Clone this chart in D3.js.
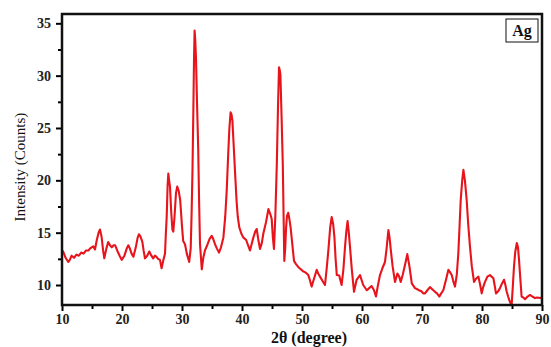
<!DOCTYPE html>
<html>
<head>
<meta charset="utf-8">
<script src="https://cdn.jsdelivr.net/npm/d3@7"></script>
<style>
  html, body { margin: 0; padding: 0; background: #fff; overflow: hidden; }
  svg { display: block; }
  text { font-family: "Liberation Serif", "Times New Roman", Times, serif; }
</style>
</head>
<body>
<div id="chart"></div>
<script>
// XRD pattern
var twoTheta = [10.0, 10.2, 10.6, 11.05, 11.3, 11.6, 12.0, 12.4, 12.8, 13.2, 13.6, 14.0, 14.4, 14.7, 15.2, 15.5, 15.8, 16.1, 16.33, 16.6,
  16.85, 17.05, 17.4, 17.7, 18.0, 18.3, 18.6, 18.85, 19.2, 19.6, 19.95, 20.4, 20.8, 21.05, 21.3, 21.6, 21.9, 22.3, 22.6, 22.83,
  23.1, 23.4, 23.6, 23.83, 24.2, 24.55, 24.9, 25.2, 25.5, 25.75, 26.0, 26.33, 26.6, 26.9, 27.17, 27.3, 27.45, 27.6, 27.72, 27.85,
  28.0, 28.2, 28.4, 28.55, 28.75, 29.0, 29.2, 29.45, 29.7, 30.0, 30.2, 30.5, 30.8, 31.2, 31.45, 31.6, 31.75, 31.9, 32.0, 32.1,
  32.2, 32.33, 32.5, 32.7, 32.85, 33.0, 33.3, 33.55, 33.83, 34.2, 34.6, 34.95, 35.2, 35.5, 35.8, 36.17, 36.5, 36.9, 37.2, 37.45,
  37.7, 37.9, 38.1, 38.25, 38.4, 38.6, 38.83, 39.1, 39.3, 39.55, 39.9, 40.2, 40.7, 41.0, 41.33, 41.6, 41.9, 42.2, 42.45, 42.7,
  43.0, 43.3, 43.55, 44.0, 44.4, 44.7, 44.95, 45.15, 45.33, 45.55, 45.8, 46.0, 46.17, 46.3, 46.4, 46.6, 46.8, 46.95, 47.05, 47.2,
  47.35, 47.5, 47.7, 47.9, 48.1, 48.4, 48.67, 49.0, 49.4, 49.8, 50.2, 50.6, 51.05, 51.3, 51.6, 52.0, 52.45, 52.7, 53.0, 53.4,
  53.83, 54.1, 54.4, 54.7, 54.95, 55.2, 55.4, 55.6, 55.8, 56.2, 56.6, 56.9, 57.17, 57.4, 57.6, 57.8, 58.0, 58.3, 58.67, 59.1,
  59.67, 60.2, 60.8, 61.2, 61.6, 62.0, 62.33, 62.6, 63.0, 63.4, 63.83, 64.1, 64.4, 64.6, 64.8, 65.1, 65.5, 65.9, 66.2, 66.45,
  66.8, 67.2, 67.55, 67.9, 68.3, 68.83, 69.2, 69.5, 69.9, 70.2, 70.5, 70.9, 71.33, 71.7, 72.17, 72.5, 72.9, 73.2, 73.55, 74.0,
  74.4, 74.7, 74.95, 75.2, 75.5, 75.8, 76.05, 76.25, 76.45, 76.7, 76.9, 77.15, 77.45, 77.7, 78.0, 78.3, 78.67, 79.0, 79.4, 79.7,
  79.95, 80.2, 80.5, 80.9, 81.33, 81.6, 81.9, 82.1, 82.33, 82.7, 83.0, 83.3, 83.67, 83.9, 84.1, 84.35, 84.55, 84.8, 84.95, 85.15,
  85.33, 85.55, 85.8, 86.0, 86.17, 86.4, 86.6, 86.9, 87.17, 87.6, 88.0, 88.4, 88.83, 89.2, 89.67, 90.0];

var counts = [13.3, 13.2, 12.6, 12.2, 12.4, 12.8, 12.6, 12.9, 12.8, 13.1, 13.0, 13.3, 13.3, 13.5, 13.7, 13.4, 14.3, 15.0, 15.3, 14.6,
  13.3, 12.55, 13.5, 14.1, 13.8, 13.6, 13.8, 13.8, 13.3, 12.8, 12.4, 12.8, 13.5, 13.8, 13.5, 13.0, 12.7, 13.6, 14.5, 14.85,
  14.6, 14.1, 13.3, 12.55, 12.8, 13.2, 12.8, 12.55, 12.8, 12.7, 12.5, 12.4, 11.6, 12.4, 13.0, 14.8, 16.5, 19.5, 20.65, 20.0,
  19.4, 17.0, 15.3, 15.1, 16.5, 18.8, 19.4, 19.0, 18.1, 15.6, 14.2, 13.9, 13.0, 12.2, 13.5, 16.8, 21.0, 27.0, 31.5, 34.3,
  33.5, 31.7, 27.5, 23.1, 18.0, 13.9, 11.5, 12.6, 13.3, 13.8, 14.4, 14.7, 14.4, 13.9, 13.5, 13.1, 13.6, 14.55, 16.5, 19.0,
  22.5, 25.0, 26.5, 26.3, 25.7, 23.5, 20.9, 18.0, 16.5, 15.5, 14.9, 14.55, 14.3, 13.8, 13.3, 13.9, 14.55, 15.1, 15.35, 14.4,
  13.45, 14.0, 14.9, 16.0, 17.25, 16.8, 16.3, 14.5, 13.45, 16.5, 21.5, 27.0, 30.8, 30.5, 30.1, 26.0, 21.5, 16.0, 12.3, 13.5,
  15.5, 16.6, 16.9, 16.3, 15.5, 13.8, 12.3, 12.0, 11.7, 11.5, 11.3, 11.2, 10.95, 10.5, 9.85, 10.6, 11.45, 11.1, 10.8, 10.4,
  10.0, 11.5, 13.35, 15.5, 16.5, 15.8, 14.6, 12.5, 10.95, 10.9, 10.0, 11.5, 13.65, 15.2, 16.1, 15.0, 13.65, 11.5, 9.35, 10.5,
  10.95, 10.0, 9.5, 9.7, 9.9, 9.5, 8.9, 9.8, 10.95, 11.6, 12.2, 13.5, 15.25, 14.5, 13.35, 11.8, 10.3, 11.1, 10.8, 10.3,
  11.0, 12.0, 12.95, 11.8, 10.15, 9.7, 9.6, 9.5, 9.4, 9.2, 9.2, 9.5, 9.8, 9.6, 9.35, 9.2, 8.9, 9.2, 9.5, 10.5,
  11.45, 11.2, 10.95, 10.4, 9.85, 11.0, 13.0, 15.5, 18.1, 20.0, 21.0, 20.0, 18.1, 15.8, 13.65, 11.8, 10.3, 10.6, 10.8, 10.0,
  9.2, 9.8, 10.3, 10.8, 10.95, 10.8, 10.65, 10.0, 9.2, 9.4, 9.7, 10.1, 10.5, 10.0, 9.4, 8.9, 8.55, 8.2, 8.15, 10.0,
  11.75, 13.2, 14.0, 13.6, 12.4, 10.5, 8.9, 8.8, 8.65, 8.9, 9.05, 8.9, 8.75, 8.8, 8.75, 8.8];

var xTicks = [10, 20, 30, 40, 50, 60, 70, 80, 90];
var xMinor = [15, 25, 35, 45, 55, 65, 75, 85];
var yTicks = [10, 15, 20, 25, 30, 35];
var yMinor = [12.5, 17.5, 22.5, 27.5, 32.5];

var width = 551, height = 347;
var margin = {top: 14, right: 9, bottom: 42, left: 62};
var innerWidth = width - margin.left - margin.right,
    innerHeight = height - margin.top - margin.bottom;

var svg = d3.select("#chart")
  .append("svg")
  .attr("width", width)
  .attr("height", height)
  .append("g")
  .attr("transform", "translate(" + margin.left + "," + margin.top + ")");

var xScale = d3.scaleLinear().domain([10, 90]).range([0, innerWidth]);
var yScale = d3.scaleLinear().domain([8.09, 35.89]).range([innerHeight, 0]);

// minor ticks first, then majors with labels
var xMinorAxis = svg.append("g")
  .attr("transform", "translate(0," + innerHeight + ")")
  .call(d3.axisBottom(xScale).tickValues(xMinor).tickSize(4).tickFormat(""));
var xAxis = svg.append("g")
  .attr("transform", "translate(0," + innerHeight + ")")
  .call(d3.axisBottom(xScale).tickValues(xTicks).tickSize(6).tickPadding(3).tickFormat(d3.format("d")));
var yMinorAxis = svg.append("g")
  .call(d3.axisLeft(yScale).tickValues(yMinor).tickSize(4).tickFormat(""));
var yAxis = svg.append("g")
  .call(d3.axisLeft(yScale).tickValues(yTicks).tickSize(6).tickPadding(5).tickFormat(d3.format("d")));

// minor ticks carry no labels
xMinorAxis.selectAll(".tick text").remove();
yMinorAxis.selectAll(".tick text").remove();

[xMinorAxis, xAxis, yMinorAxis, yAxis].forEach(function(a) {
  a.attr("font-family", null);
  a.select(".domain").remove();
  a.selectAll(".tick line").attr("stroke", "#000").attr("stroke-width", 2);
  a.selectAll(".tick text")
    .attr("fill", "#222")
    .style("font-size", "14px")
    .style("font-weight", "bold");
});

// the curve
var points = twoTheta.map(function(d, i) { return [d, counts[i]]; });
var line = d3.line()
  .x(function(d) { return xScale(d[0]); })
  .y(function(d) { return yScale(d[1]); });

svg.append("clipPath").attr("id", "clip")
  .append("rect").attr("width", innerWidth).attr("height", innerHeight);

svg.append("path")
  .datum(points)
  .attr("clip-path", "url(#clip)")
  .attr("fill", "none")
  .attr("stroke", "#e8141c")
  .attr("stroke-width", 2.1)
  .attr("stroke-linejoin", "round")
  .attr("d", line);

// frame
svg.append("rect")
  .attr("width", innerWidth)
  .attr("height", innerHeight)
  .attr("fill", "none")
  .attr("stroke", "#111")
  .attr("stroke-width", 2.5);

// legend box
svg.append("rect")
  .attr("x", 444).attr("y", 5)
  .attr("width", 32).attr("height", 23)
  .attr("fill", "#fff")
  .attr("stroke", "#111")
  .attr("stroke-width", 1);
svg.append("text")
  .attr("x", 460).attr("y", 21.5)
  .attr("text-anchor", "middle")
  .style("font-size", "16px")
  .style("font-weight", "bold")
  .attr("fill", "#111")
  .text("Ag");

// axis titles
svg.append("text")
  .attr("x", innerWidth / 2 + 7)
  .attr("y", innerHeight + 38)
  .attr("text-anchor", "middle")
  .style("font-size", "16px")
  .style("font-weight", "bold")
  .attr("fill", "#111")
  .text("2θ (degree)");

svg.append("text")
  .attr("transform", "rotate(-90)")
  .attr("x", -153)
  .attr("y", -37)
  .attr("text-anchor", "middle")
  .style("font-size", "15px")
  .attr("fill", "#111")
  .text("Intensity (Counts)");
</script>
</body>
</html>
